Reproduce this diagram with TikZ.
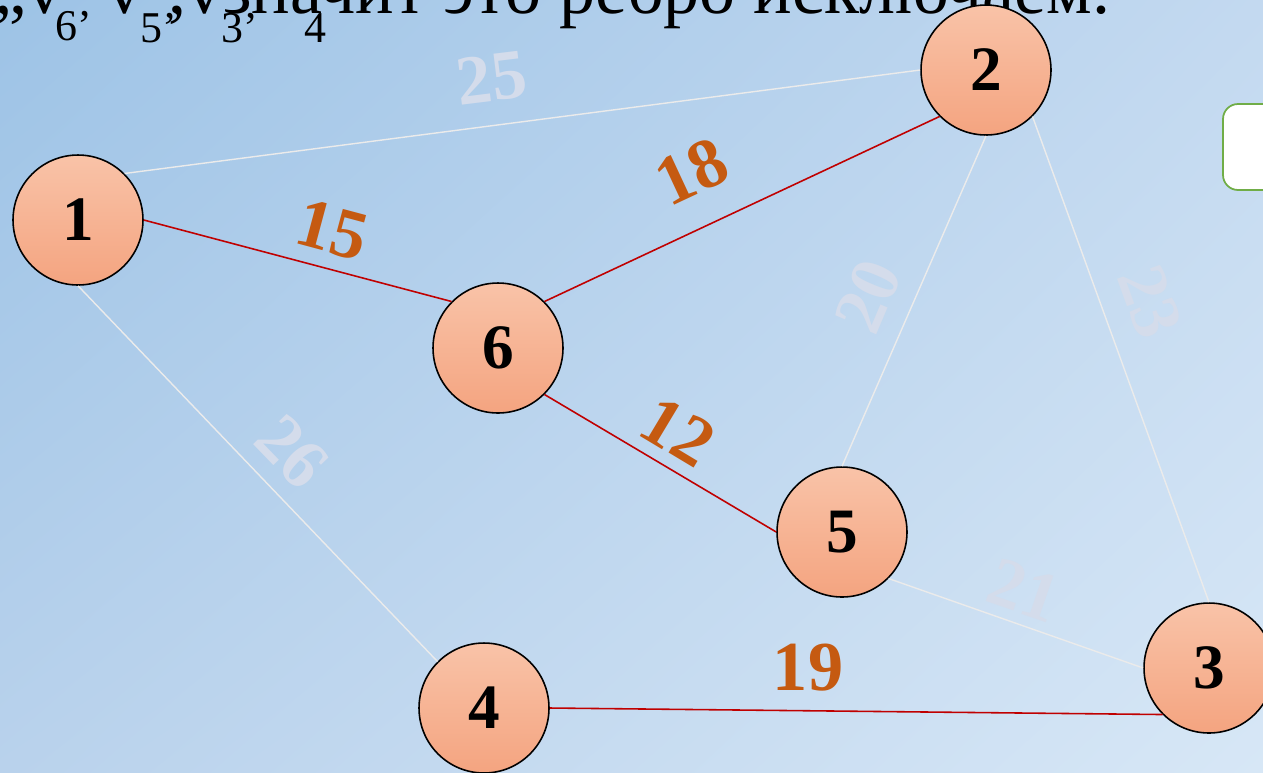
\documentclass[tikz,border=0pt]{standalone}
\usepackage{fontspec}
\setmainfont{Liberation Serif}
\usetikzlibrary{calc, positioning, shadings}
\definecolor{bgtl}{HTML}{9DC3E6}
\definecolor{bgtr}{HTML}{C3D9F0}
\definecolor{bgbl}{HTML}{B9D2EC}
\definecolor{bgbr}{HTML}{D7E7F6}
\definecolor{ndtop}{HTML}{F9C3A8}
\definecolor{ndbot}{HTML}{F4A480}
\definecolor{tred}{HTML}{C00000}
\definecolor{tlab}{HTML}{C55A11}
\definecolor{tpale}{HTML}{D4DCEB}
\definecolor{tgreen}{HTML}{70AD47}
\tikzset{
  vtx/.style     = {circle, draw=black, line width=0.9pt, top color=ndtop,
                    bottom color=ndbot, minimum size=2.6cm, inner sep=0pt,
                    font=\fontsize{36}{36}\selectfont\bfseries},
  edgtree/.style = {draw=tred, line width=0.9pt},
  edgcut/.style  = {draw=white!92!black, line width=0.8pt},
  wtree/.style   = {font=\fontsize{40}{40}\selectfont\bfseries, text=tlab, inner sep=0pt},
  wcut/.style    = {font=\fontsize{40}{40}\selectfont\bfseries, text=tpale, inner sep=0pt},
  headtxt/.style = {font=\fontsize{41}{41}\selectfont, inner sep=0pt, anchor=base west},
  subtxt/.style  = {font=\fontsize{25}{25}\selectfont, inner sep=0pt, anchor=base west},
}
\begin{document}
\begin{tikzpicture}[x=0.02cm, y=-0.02cm]
  \useasboundingbox (0,0) rectangle (1263,772);
  \begin{scope}
    \clip (0,0) rectangle (1263,772);
    \shade[upper left=bgtl, upper right=bgtr, lower left=bgbl, lower right=bgbr]
      (0,0) rectangle (1263,772);
    % heading, cut at the top
    \node[headtxt] (hd0) at (-6,13) {„v};
    \node[subtxt]  (hd1) at (55,40) {6’};
    \node[headtxt] (hd2) at (106,13) {v};
    \node[subtxt]  (hd3) at (140,42) {5’};
    \node[headtxt] (hd4) at (168,13) {,v};
    \node[subtxt]  (hd5) at (221,42) {3’};
    \node[subtxt]  (hd6) at (304,42) {4};
    \node[headtxt] (hd7) at (223,13) {значит это ребро исключаем.};
    % box at the right
    \draw[draw=tgreen, line width=1pt, fill=white, rounded corners=0.3cm]
      (1223,104) rectangle (1300,190);
    \node[vtx] (v1) at (78,220) {1};
    \node[vtx] (v2) at (986,70) {2};
    \node[vtx] (v3) at (1209,668) {3};
    \node[vtx] (v4) at (484,708) {4};
    \node[vtx] (v5) at (842,532) {5};
    \node[vtx] (v6) at (498,348) {6};
    \draw[edgcut]  (v1.north east) -- (v2.west);
    \draw[edgtree] (v1.east) -- (v6.north west);
    \draw[edgtree] (v6.north east) -- (v2.south west);
    \draw[edgcut]  (v2.south) -- (v5.north);
    \draw[edgcut]  (v2.south east) -- (v3.north);
    \draw[edgcut]  (v1.south) -- (v4.north west);
    \draw[edgtree] (v6.south east) -- (v5.west);
    \draw[edgcut]  (v5.south east) -- (v3.west);
    \draw[edgtree] (v4.east) -- (v3.south west);
    \node[wcut, rotate=7]    (w12) at (492,78)  {25};
    \node[wtree, rotate=-15] (w16) at (332,230) {15};
    \node[wtree, rotate=25]  (w62) at (692,172) {18};
    \node[wcut, rotate=67]   (w25) at (868,296) {20};
    \node[wcut, rotate=-70]  (w23) at (1150,302) {23};
    \node[wcut, rotate=-46]  (w14) at (292,452) {26};
    \node[wtree, rotate=-31] (w65) at (678,432) {12};
    \node[wcut, rotate=-19]  (w53) at (1024,590) {21};
    \node[wtree]             (w43) at (808,668) {19};
  \end{scope}
\end{tikzpicture}
\end{document}
